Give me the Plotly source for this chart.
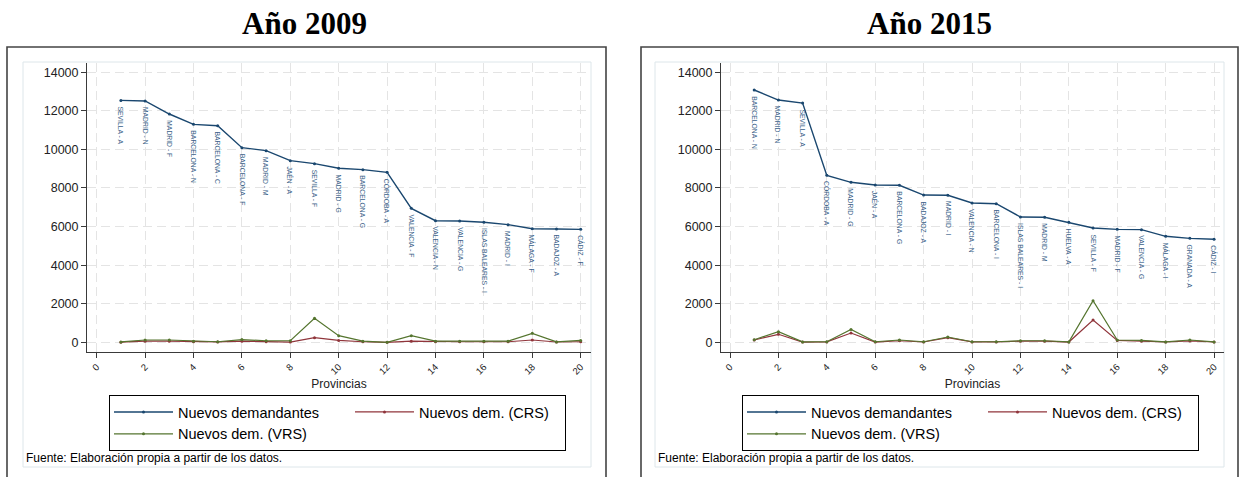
import plotly.graph_objects as go

W, H = 1242, 477

# Ranking position of each province (x axis)
posiciones = list(range(1, 21))
ticks_x = list(range(0, 21, 2))
ticks_y = list(range(0, 14001, 2000))

# --- Año 2009 ---
prov_2009 = ["SEVILLA - A", "MADRID - N", "MADRID - F", "BARCELONA - N", "BARCELONA - C",
             "BARCELONA - F", "MADRID - M", "JAÉN - A", "SEVILLA - F", "MADRID - G",
             "BARCELONA - G", "CÓRDOBA - A", "VALENCIA - F", "VALENCIA - N", "VALENCIA - G",
             "ISLAS BALEARES - I", "MADRID - I", "MÁLAGA - F", "BADAJOZ - A", "CÁDIZ - F"]
dem_2009 = [12540, 12510, 11835, 11300, 11230, 10090, 9935, 9415, 9260, 9020,
            8950, 8810, 6945, 6305, 6290, 6220, 6100, 5890, 5875, 5855]
crs_2009 = [5, 60, 60, 30, 20, 60, 30, 10, 240, 100,
            30, 0, 60, 30, 30, 30, 30, 120, 15, 30]
vrs_2009 = [20, 120, 120, 60, 30, 140, 80, 80, 1245, 345,
            60, 0, 345, 60, 60, 60, 60, 465, 20, 100]

# --- Año 2015 ---
prov_2015 = ["BARCELONA - N", "MADRID - N", "SEVILLA - A", "CÓRDOBA - A", "MADRID - G",
             "JAÉN - A", "BARCELONA - G", "BADAJOZ - A", "MADRID - I", "VALENCIA - N",
             "BARCELONA - I", "ISLAS BALEARES - I", "MADRID - M", "HUELVA - A", "SEVILLA - F",
             "MADRID - F", "VALENCIA - G", "MÁLAGA - I", "GRANADA - A", "CÁDIZ - I"]
dem_2015 = [13080, 12560, 12405, 8655, 8295, 8155, 8140, 7635, 7620, 7220,
            7185, 6495, 6480, 6220, 5925, 5855, 5840, 5495, 5390, 5340]
crs_2015 = [120, 415, 10, 20, 480, 15, 80, 15, 240, 20,
            20, 60, 60, 15, 1155, 100, 60, 15, 70, 15]
vrs_2015 = [135, 550, 20, 30, 670, 30, 120, 30, 275, 30,
            30, 80, 80, 20, 2160, 120, 100, 20, 120, 20]

titulos = ["Año 2009", "Año 2015"]
nombres = ["Nuevos demandantes", "Nuevos dem. (CRS)", "Nuevos dem. (VRS)"]
colores = ["#1a476f", "#90353b", "#55752f"]
fuente = "Fuente: Elaboración propia a partir de los datos."

FONT = "Liberation Sans, Arial, sans-serif"


def px(x):
    return x / W


def py(y):
    return 1 - y / H


# Pixel geometry of each panel: outer frame, inner region, plot area, x range
paneles = [
    dict(frame=(7, 606), inner=(23, 591), plot=(87, 591), xr=(-0.401, 20.426),
         title_x=304, legend_x=109,
         prov=prov_2009, series=[dem_2009, crs_2009, vrs_2009]),
    dict(frame=(641, 1238), inner=(655, 1224), plot=(721, 1224), xr=(-0.372, 20.41),
         title_x=929, legend_x=742,
         prov=prov_2015, series=[dem_2015, crs_2015, vrs_2015]),
]
PLOT_TOP, PLOT_BOTTOM = 62.7, 351.7
YR = (-487, 14495)

fig = go.Figure()
shapes = []
annotations = []
layout = {}

for i, p in enumerate(paneles):
    sfx = "" if i == 0 else str(i + 1)
    xa, ya = "x" + sfx, "y" + sfx
    leg = "legend" + sfx
    groups = ["a", "b", "a"]
    widths = [167, 141, 167]
    for k in range(3):
        fig.add_trace(go.Scatter(
            x=posiciones, y=p["series"][k], name=nombres[k],
            mode="lines+markers",
            line=dict(color=colores[k], width=1.4 if k == 0 else 1.2),
            marker=dict(color=colores[k], size=3),
            xaxis=xa, yaxis=ya, legend=leg, legendgroup=groups[k] + sfx,
            legendwidth=widths[k],
            hoverinfo="skip",
        ))

    common_grid = dict(showgrid=True, gridcolor="#e4e4e4", gridwidth=1,
                       griddash="9px,5px", zeroline=False, showline=True,
                       linecolor="#3a3a3a", linewidth=1, ticks="outside",
                       ticklen=5, tickcolor="#3a3a3a", tickwidth=1)
    layout["xaxis" + sfx] = dict(
        domain=[px(p["plot"][0]), px(p["plot"][1])], range=list(p["xr"]),
        anchor=ya, tickmode="array", tickvals=ticks_x, tickangle=-45,
        tickfont=dict(family=FONT, size=9.5, color="#222"),
        title=dict(text="Provincias", font=dict(family=FONT, size=12, color="#222"),
                   standoff=0),
        **common_grid)
    layout["yaxis" + sfx] = dict(
        domain=[py(PLOT_BOTTOM), py(PLOT_TOP)], range=list(YR), anchor=xa,
        tickmode="array", tickvals=ticks_y, tickformat="d",
        tickfont=dict(family=FONT, size=12.5, color="#222"),
        **common_grid)
    layout[leg] = dict(
        x=px(p["legend_x"]), y=py(395), xanchor="left", yanchor="top",
        orientation="h", traceorder="grouped", itemwidth=59,
        bordercolor="#000", borderwidth=1, bgcolor="white",
        font=dict(family=FONT, size=14.5, color="#000"), tracegroupgap=0,
        itemclick=False, itemdoubleclick=False)

    # Outer frame and light inner region
    shapes.append(dict(type="rect", xref="paper", yref="paper",
                       x0=px(p["frame"][0]), x1=px(p["frame"][1]),
                       y0=py(47), y1=-0.1, line=dict(color="#444", width=1.6),
                       layer="below"))
    shapes.append(dict(type="rect", xref="paper", yref="paper",
                       x0=px(p["inner"][0]), x1=px(p["inner"][1]),
                       y0=py(62), y1=py(467), line=dict(color="#dde6ea", width=1),
                       layer="below"))

    # Panel title and source note
    annotations.append(dict(text="<b>" + titulos[i] + "</b>", xref="paper", yref="paper",
                            x=px(p["title_x"]), y=py(24), xanchor="center", yanchor="middle",
                            showarrow=False,
                            font=dict(family="Liberation Serif, Times New Roman, serif",
                                      size=31, color="#000")))
    annotations.append(dict(text=fuente, xref="paper", yref="paper",
                            x=px(p["inner"][0] + 1), y=py(458), xanchor="left",
                            yanchor="middle", showarrow=False,
                            font=dict(family=FONT, size=12, color="#000")))

    # Vertical province labels under each point of the main series
    for xv, yv, lab in zip(posiciones, p["series"][0], p["prov"]):
        annotations.append(dict(text=lab, x=xv, y=yv, xref=xa, yref=ya,
                                xanchor="center", yanchor="top", yshift=-5,
                                textangle=90, showarrow=False, borderpad=0,
                                font=dict(family=FONT, size=6.8, color="#3a5f88")))

fig.update_layout(
    width=W, height=H, margin=dict(l=0, r=0, t=0, b=0),
    paper_bgcolor="white", plot_bgcolor="white",
    shapes=shapes, annotations=annotations, hovermode=False,
    **layout)

fig.write_html("out.html")
